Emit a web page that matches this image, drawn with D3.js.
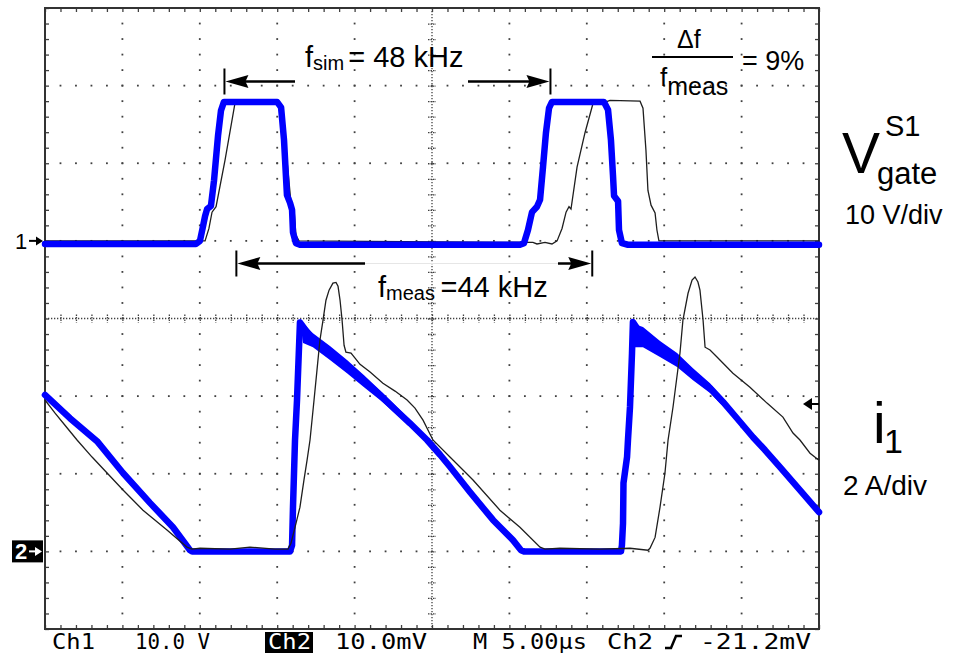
<!DOCTYPE html>
<html>
<head>
<meta charset="utf-8">
<script src="https://cdn.jsdelivr.net/npm/d3@7"></script>
<style>
  html, body { margin: 0; padding: 0; background: #fff; }
  svg { display: block; }
</style>
</head>
<body>
<svg id="scope" width="956" height="658"></svg>
<script>
// ---- Screen settings: 10 div × 5 µs, 8 vertical divisions ----
const timeSpan = [0, 50];     // µs
const ch1Range = [-50, 30];   // V   (10 V/div, ground marker "1" at 0 V)
const ch2Range = [-2, 14];    // A   (2 A/div, ground marker "2" at 0 A)

// ---- Gate voltage V_gate^S1 : [t µs, V] ----
const gateSim = [
  [0,-0.4],[9.75,-0.4],[10.01,0],[10.21,1.9],[10.34,3.2],[10.47,4.1],[10.72,4.5],
  [10.92,7.8],[11.18,13.6],[11.37,16.8],[11.56,17.9],[14.99,17.9],[15.25,17.2],
  [15.44,13.0],[15.63,5.9],[15.83,4.9],[15.96,4.0],[16.02,1.1],[16.21,-0.3],
  [16.47,-0.5],[30.68,-0.5],[30.94,-0.3],[31.20,1.4],[31.46,3.7],[31.78,4.4],
  [31.98,5.3],[32.17,9.5],[32.36,13.9],[32.56,17.1],[32.75,17.9],[36.11,17.9],
  [36.37,16.9],[36.56,13.0],[36.69,8.5],[36.76,5.8],[37.02,5.1],[37.08,1.4],
  [37.27,-0.3],[37.66,-0.5],[50,-0.5]
];
const gateMeas = [
  [0,0],[10.34,0],[10.59,1.6],[10.79,3.7],[11.05,4.4],[11.63,10.4],[12.27,17.7],
  [12.60,18.0],[15.05,18.0],[15.31,16.8],[15.63,10.4],[15.89,4.9],[16.09,4.0],
  [16.21,0.7],[16.41,0],[31.52,-0.2],[31.78,-0.4],[32.30,-0.2],[32.75,-0.4],
  [33.08,0],[33.40,1.6],[33.66,3.7],[33.85,4.4],[33.98,4.1],[34.37,9.5],
  [34.88,13.9],[35.40,17.7],[35.72,18.0],[36.24,17.9],[36.50,18.1],[38.44,18.0],
  [38.63,17.1],[38.82,11.7],[38.95,6.5],[39.15,4.6],[39.41,3.6],[39.53,1.4],
  [39.66,0],[50,0]
];

// ---- Current i1 : [t µs, A] ----
const currSim = [
  [0,4.03],[1.61,3.43],[3.36,2.84],[5.04,2.02],[6.78,1.25],[8.27,0.62],[9.37,0.03],
  [9.50,0],[15.83,0],[15.96,0.16],[16.02,1.14],[16.15,2.86],[16.28,3.90],[16.47,5.90],
  [17.31,5.44],[18.41,5.11],[19.51,4.77],[20.61,4.39],[21.64,4.03],[22.61,3.66],
  [23.58,3.30],[24.68,2.87],[25.52,2.49],[26.16,2.18],[27.45,1.53],[28.94,0.81],
  [30.23,0.29],[30.75,0.03],[30.94,0],[37.21,0],[37.27,0.16],[37.34,0.73],
  [37.37,1.76],[37.60,2.43],[37.66,2.87],[37.79,3.72],[37.92,5.11],[37.98,5.91],
  [38.63,5.52],[39.73,5.21],[40.83,4.93],[41.86,4.57],[42.96,4.21],[43.80,3.85],
  [44.70,3.43],[45.74,2.94],[46.51,2.61],[47.48,2.17],[48.77,1.58],[50,1.01]
];
// ringing envelope after each turn-on edge: [t µs, upper A, lower A]
const ringSim1 = [
  [16.47,6.00,5.95],[16.67,5.88,5.37],[17.31,5.62,5.26],[18.41,5.29,4.93],
  [19.51,4.93,4.59],[20.61,4.54,4.23],[21.64,4.15,3.90],[22.61,3.77,3.56],
  [23.58,3.38,3.23]
];
const ringSim2 = [
  [37.98,5.91,5.83],[38.11,5.85,5.26],[38.63,5.78,5.26],[39.73,5.42,5.01],
  [40.83,5.11,4.75],[41.86,4.72,4.41],[42.96,4.33,4.08],[43.80,3.92,3.74],
  [44.70,3.46,3.38]
];
const currMeas = [
  [0,3.90],[0.65,3.56],[1.29,3.25],[2.07,2.87],[3.04,2.43],[4.01,2.02],[5.04,1.58],
  [6.33,1.06],[7.88,0.55],[9.17,0.11],[9.50,0.06],[10.01,0.08],[11.95,0.06],
  [13.24,0.11],[14.86,0.06],[15.70,0.06],[15.89,0.21],[16.15,0.62],[16.47,1.14],
  [16.73,1.84],[16.93,2.35],[17.12,2.87],[17.38,3.90],[17.57,4.67],[17.76,5.44],
  [17.96,5.96],[18.15,6.47],[18.35,6.73],[18.60,6.91],[18.80,6.93],[18.93,6.83],
  [19.06,6.47],[19.19,5.96],[19.32,5.31],[19.44,5.13],[19.77,5.11],[20.03,4.98],
  [20.35,4.82],[21.00,4.62],[21.83,4.33],[22.61,4.13],[23.39,3.90],[23.90,3.69],
  [24.42,3.38],[25.06,2.87],[26.16,2.43],[27.65,1.84],[29.39,1.06],[30.68,0.62],
  [31.98,0.11],[32.30,0.06],[33.26,0.08],[35.85,0.06],[37.79,0.08],[38.95,0.03],
  [39.08,0.08],[39.41,0.36],[39.73,1.14],[40.05,2.02],[40.25,2.87],[40.57,3.72],
  [41.02,5.11],[41.21,5.96],[41.54,6.65],[41.80,6.99],[41.99,7.07],[42.18,6.94],
  [42.31,6.73],[42.51,5.96],[42.64,5.26],[42.96,5.19],[43.41,5.01],[44.44,4.59],
  [45.54,4.23],[46.64,3.82],[47.67,3.46],[48.32,3.05],[48.77,2.87],[49.42,2.53],
  [50,2.35]
];

// ---- Period markers (µs) ----
const periodSim = [11.56, 32.62];   // 1 / 48 kHz
const periodMeas = [12.33, 35.32];  // 1 / 44 kHz

// ---- Status line ----
const statusItems = [
  { text: "Ch1", x: 52, len: 43 },
  { text: "10.0 V", x: 135, len: 75 },
  { text: "Ch2", x: 268, len: 43, boxed: true },
  { text: "10.0mV", x: 335, len: 92 },
  { text: "M 5.00\u00b5s", x: 473, len: 114 },
  { text: "Ch2", x: 607, len: 46 },
  { text: "-21.2mV", x: 700, len: 111 }
];

// ------------------------------------------------------------------
const svg = d3.select("#scope");
const frame = { left: 45, right: 819, top: 8, bottom: 629 };

const x = d3.scaleLinear().domain(timeSpan).range([frame.left, frame.right]);
const yV = d3.scaleLinear().domain(ch1Range).range([frame.bottom, frame.top]);
const yA = d3.scaleLinear().domain(ch2Range).range([frame.bottom, frame.top]);
const yDiv = d3.scaleLinear().domain([0, 8]).range([frame.bottom, frame.top]);

const majorT = d3.range(0, 50.001, 5);
const minorT = d3.range(0, 50.001, 1);
const majorD = d3.range(0, 8.001, 1);
const minorD = d3.range(0, 8.001, 0.2);

const gridColor = "#404040";
const LABEL_FONT = "'Liberation Sans', Arial, sans-serif";

// ---- graticule dots ----
const grid = svg.append("g");
const dotPts = [];
majorT.slice(1, -1).forEach(t => {
  if (t === 25) return;
  minorD.slice(1, -1).forEach(d => dotPts.push([x(t), yDiv(d)]));
});
majorD.slice(1, -1).forEach(d => {
  if (d === 4) return;
  minorT.slice(1, -1).forEach(t => dotPts.push([x(t), yDiv(d)]));
});
grid.selectAll("rect.dot").data(dotPts).join("rect")
  .attr("class", "dot")
  .attr("x", d => d[0] - 0.9).attr("y", d => d[1] - 0.9)
  .attr("width", 1.8).attr("height", 1.8)
  .attr("fill", gridColor);

// centre cross-hair with minor ticks
grid.append("line")
  .attr("x1", frame.left).attr("x2", frame.right)
  .attr("y1", yDiv(4)).attr("y2", yDiv(4))
  .attr("stroke", gridColor).attr("stroke-width", 1.3)
  .attr("stroke-dasharray", "1.3,1.7");
grid.append("line")
  .attr("x1", x(25)).attr("x2", x(25))
  .attr("y1", frame.top).attr("y2", frame.bottom)
  .attr("stroke", gridColor).attr("stroke-width", 1.3)
  .attr("stroke-dasharray", "1.3,1.7");
grid.append("g")
  .attr("transform", `translate(0,${yDiv(4) - 4})`)
  .call(d3.axisBottom(x).tickValues(minorT.slice(1, -1)).tickSize(8).tickFormat(""))
  .call(g => g.select(".domain").remove())
  .call(g => g.selectAll("line").attr("stroke", gridColor).attr("stroke-width", 1.3).attr("stroke-dasharray", "1.5,1"));
grid.append("g")
  .attr("transform", `translate(${x(25) - 4},0)`)
  .call(d3.axisRight(yDiv).tickValues(minorD.slice(1, -1)).tickSize(8).tickFormat(""))
  .call(g => g.select(".domain").remove())
  .call(g => g.selectAll("line").attr("stroke", gridColor).attr("stroke-width", 1.3).attr("stroke-dasharray", "1.5,1"));

// frame ticks
function edgeTicks(axis, tx, ty) {
  grid.append("g").attr("transform", `translate(${tx},${ty})`)
    .call(axis.tickSize(4).tickFormat(""))
    .call(g => g.select(".domain").remove())
    .call(g => g.selectAll("line").attr("stroke", gridColor).attr("stroke-width", 1.3));
}
edgeTicks(d3.axisBottom(x).tickValues(minorT), 0, frame.top);
edgeTicks(d3.axisTop(x).tickValues(minorT), 0, frame.bottom);
edgeTicks(d3.axisRight(yDiv).tickValues(minorD), frame.left, 0);
edgeTicks(d3.axisLeft(yDiv).tickValues(minorD), frame.right, 0);

// frame
svg.append("rect")
  .attr("x", frame.left).attr("y", frame.top)
  .attr("width", frame.right - frame.left).attr("height", frame.bottom - frame.top)
  .attr("fill", "none").attr("stroke", "#333").attr("stroke-width", 2);

// ---- traces ----
const lineV = d3.line().x(d => x(d[0])).y(d => yV(d[1]));
const lineA = d3.line().x(d => x(d[0])).y(d => yA(d[1]));
const bandA = d3.area().x(d => x(d[0])).y0(d => yA(d[2])).y1(d => yA(d[1]));

const BLUE = "#0000ff";
const MEAS = "#1e1e1e";

// measured gate voltage sits beneath the simulated one
svg.append("path").datum(gateMeas).attr("d", lineV)
  .attr("fill", "none").attr("stroke", MEAS).attr("stroke-width", 1.3);
svg.append("path").datum(gateSim).attr("d", lineV)
  .attr("fill", "none").attr("stroke", BLUE).attr("stroke-width", 6.5)
  .attr("stroke-linejoin", "round").attr("stroke-linecap", "round");

// simulated current with its ringing band
[ringSim1, ringSim2].forEach(r => {
  svg.append("path").datum(r).attr("d", bandA).attr("fill", BLUE);
});
svg.append("path").datum(currSim).attr("d", lineA)
  .attr("fill", "none").attr("stroke", BLUE).attr("stroke-width", 6.5)
  .attr("stroke-linejoin", "round").attr("stroke-linecap", "round");
// measured current drawn on top
svg.append("path").datum(currMeas).attr("d", lineA)
  .attr("fill", "none").attr("stroke", MEAS).attr("stroke-width", 1.3);

// ---- period arrows ----
const ann = svg.append("g").attr("fill", "#000").attr("stroke", "#000");
function bar(px, cy) {
  ann.append("line").attr("x1", px).attr("x2", px).attr("y1", cy - 13).attr("y2", cy + 13)
    .attr("stroke-width", 2);
}
function head(tipX, cy, dir) {
  const b = tipX + dir * 23;
  ann.append("path")
    .attr("d", `M${tipX},${cy}L${b},${cy - 6.5}L${b - dir * 3},${cy}L${b},${cy + 6.5}Z`)
    .attr("stroke", "none");
}
function shaft(x1, x2, cy) {
  ann.append("line").attr("x1", x1).attr("x2", x2).attr("y1", cy).attr("y2", cy)
    .attr("stroke-width", 2.5);
}
// f_sim
{
  const cy = 81.5, a = x(periodSim[0]) + 0.5, b = x(periodSim[1]) + 0.5;
  bar(a, cy); bar(b, cy);
  head(a + 1, cy, 1); head(b - 1, cy, -1);
  shaft(a + 15, 295, cy); shaft(468, b - 15, cy);
}
// f_meas
{
  const cy = 263.5, a = x(periodMeas[0]) + 0.5, b = x(periodMeas[1]) + 0.5;
  svg.append("line").attr("x1", 365).attr("x2", 558).attr("y1", cy).attr("y2", cy)
    .attr("stroke", "#e6e6e6").attr("stroke-width", 1);
  bar(a, cy); bar(b, cy);
  head(a + 1, cy, 1); head(b - 1, cy, -1);
  shaft(a + 15, 365, cy); shaft(558, b - 15, cy);
}

// ---- labels ----
const txt = svg.append("g").attr("font-family", LABEL_FONT).attr("fill", "#000");

const fs = txt.append("text").attr("x", 305).attr("y", 67).attr("font-size", 29);
fs.append("tspan").text("f");
fs.append("tspan").attr("font-size", 20).attr("dy", 3).text("sim");
fs.append("tspan").attr("dy", -3).attr("dx", 4).text("= 48 kHz");

const fm = txt.append("text").attr("x", 378).attr("y", 297).attr("font-size", 29);
fm.append("tspan").text("f");
fm.append("tspan").attr("font-size", 20).attr("dy", 3).text("meas ");
fm.append("tspan").attr("dy", -3).text("=44 kHz");

// Δf / f_meas = 9%
txt.append("text").attr("x", 677).attr("y", 48).attr("font-size", 25).text("\u0394f");
txt.append("line").attr("x1", 652).attr("x2", 733).attr("y1", 57).attr("y2", 57)
  .attr("stroke", "#000").attr("stroke-width", 2);
const fd = txt.append("text").attr("x", 660).attr("y", 86).attr("font-size", 26);
fd.append("tspan").text("f");
fd.append("tspan").attr("font-size", 25).attr("dy", 9).text("meas");
txt.append("text").attr("x", 742).attr("y", 70).attr("font-size", 27).text("= 9%");

// channel names
txt.append("text").attr("x", 842).attr("y", 173).attr("font-size", 57).text("V");
txt.append("text").attr("x", 885).attr("y", 136).attr("font-size", 29).text("S1");
txt.append("text").attr("x", 877).attr("y", 184).attr("font-size", 31).text("gate");
txt.append("text").attr("x", 845).attr("y", 224).attr("font-size", 27).text("10 V/div");

txt.append("text").attr("x", 873).attr("y", 443).attr("font-size", 57).text("i");
txt.append("text").attr("x", 884).attr("y", 453).attr("font-size", 34).text("1");
txt.append("text").attr("x", 843).attr("y", 495).attr("font-size", 28).text("2 A/div");

// ---- ground / trigger markers ----
const g1 = yV(0), g2 = yA(0);
svg.append("text").attr("x", 15).attr("y", g1 + 8).attr("font-family", LABEL_FONT)
  .attr("font-size", 22).text("1");
svg.append("line").attr("x1", 29).attr("x2", 38).attr("y1", g1).attr("y2", g1)
  .attr("stroke", "#000").attr("stroke-width", 2);
svg.append("path").attr("d", `M43,${g1}L36,${g1 - 4.5}L36,${g1 + 4.5}Z`).attr("fill", "#000");

svg.append("rect").attr("x", 12).attr("y", g2 - 11).attr("width", 31).attr("height", 22).attr("fill", "#000");
svg.append("text").attr("x", 15).attr("y", g2 + 8).attr("font-family", LABEL_FONT)
  .attr("font-size", 22).attr("font-weight", "bold").attr("fill", "#fff").text("2");
svg.append("line").attr("x1", 29).attr("x2", 37).attr("y1", g2).attr("y2", g2)
  .attr("stroke", "#fff").attr("stroke-width", 2);
svg.append("path").attr("d", `M42,${g2}L35,${g2 - 4.5}L35,${g2 + 4.5}Z`).attr("fill", "#fff");

// trigger level arrow on the right edge
const trigY = 404;
svg.append("path").attr("d", `M803,${trigY}L812,${trigY - 6}L812,${trigY + 6}Z`).attr("fill", "#000");
svg.append("line").attr("x1", 811).attr("x2", 819).attr("y1", trigY).attr("y2", trigY)
  .attr("stroke", "#000").attr("stroke-width", 2);

// ---- status line ----
const MONO = "'DejaVu Sans Mono', monospace";
const status = svg.append("g").attr("font-family", MONO).attr("font-size", 22);
statusItems.forEach(s => {
  if (s.boxed) {
    status.append("rect").attr("x", s.x - 3).attr("y", 632).attr("width", s.len + 5).attr("height", 21).attr("fill", "#000");
  }
  status.append("text").attr("x", s.x).attr("y", 649)
    .attr("textLength", s.len).attr("lengthAdjust", "spacingAndGlyphs")
    .attr("fill", s.boxed ? "#fff" : "#000").text(s.text);
});
// rising-edge trigger symbol
status.append("path").attr("d", "M665,648L671,648L676,636L682,636")
  .attr("fill", "none").attr("stroke", "#000").attr("stroke-width", 2.5);
</script>
</body>
</html>
